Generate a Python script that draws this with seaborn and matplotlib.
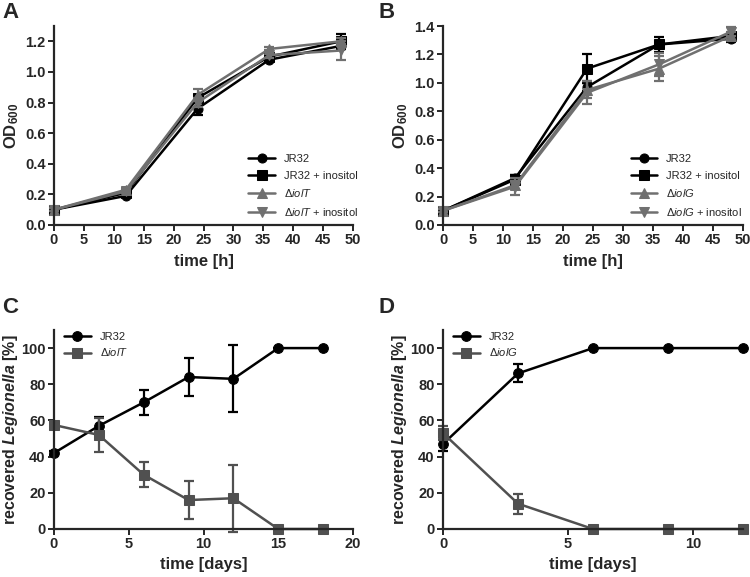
import numpy as np
import matplotlib
matplotlib.use('Agg')
import matplotlib.pyplot as plt
import seaborn as sns

# ---- data ----
hours = [0, 12, 24, 36, 48]

# panel A
a_jr32 = [0.10, 0.19, 0.76, 1.08, 1.17]
a_jr32_err = [0.01, 0.01, 0.04, 0.01, 0.02]
a_jr32_ino = [0.10, 0.21, 0.83, 1.10, 1.20]
a_jr32_ino_err = [0.01, 0.01, 0.02, 0.01, 0.05]
a_iolT = [0.10, 0.23, 0.85, 1.15, 1.20]
a_iolT_err = [0.01, 0.01, 0.04, 0.01, 0.02]
a_iolT_ino = [0.10, 0.22, 0.80, 1.11, 1.14]
a_iolT_ino_err = [0.01, 0.01, 0.03, 0.02, 0.06]

# panel B
b_jr32 = [0.10, 0.33, 0.97, 1.27, 1.31]
b_jr32_err = [0.01, 0.02, 0.03, 0.02, 0.02]
b_jr32_ino = [0.10, 0.32, 1.10, 1.27, 1.33]
b_jr32_ino_err = [0.01, 0.03, 0.10, 0.05, 0.02]
b_iolG = [0.10, 0.28, 0.95, 1.10, 1.33]
b_iolG_err = [0.01, 0.03, 0.06, 0.09, 0.03]
b_iolG_ino = [0.10, 0.27, 0.93, 1.13, 1.36]
b_iolG_ino_err = [0.01, 0.06, 0.08, 0.08, 0.03]

# panel C
c_days = [0, 3, 6, 9, 12, 15, 18]
c_jr32 = [42, 57, 70, 84, 83, 100, 100]
c_jr32_err = [1, 5, 7, 10.5, 18.5, 0, 0]
c_iolT = [57.5, 52, 30, 16, 17, 0, 0]
c_iolT_err = [1, 9.5, 7, 10.5, 18.5, 0, 0]

# panel D
d_days = [0, 3, 6, 9, 12]
d_jr32 = [47, 86, 100, 100, 100]
d_jr32_err = [4, 5, 0, 0, 0]
d_iolG = [53, 14, 0, 0, 0]
d_iolG_err = [4, 5.5, 0, 0, 0]

sns.set_style('ticks')
plt.rcParams['font.family'] = ['Liberation Sans', 'DejaVu Sans']
plt.rcParams['mathtext.fontset'] = 'custom'
plt.rcParams['mathtext.rm'] = 'Liberation Sans'
plt.rcParams['mathtext.it'] = 'Liberation Sans:italic'
plt.rcParams['mathtext.bf'] = 'Liberation Sans:bold'
plt.rcParams['mathtext.bfit'] = 'Liberation Sans:bold:italic'

GRAY_AB = '#707070'
GRAY_CD = '#505050'

fig = plt.figure(figsize=(7.5, 5.77), dpi=100)
W, H = 750, 577


def add_ax(l, r, t, b):
    return fig.add_axes([l / W, 1 - b / H, (r - l) / W, (b - t) / H])


axA = add_ax(54, 353, 26, 225)
axB = add_ax(443, 743, 26, 225)
axC = add_ax(54, 353, 330, 529)
axD = add_ax(443, 743, 330, 529)


def series(ax, x, y, err, color, marker, label, ms=6.5):
    sns.lineplot(x=x, y=y, ax=ax, color=color, marker=marker, markersize=ms,
                 markeredgecolor=color, linewidth=1.8, label=label, clip_on=False)
    ax.errorbar(x, y, yerr=err, fmt='none', ecolor=color, elinewidth=1.6,
                capsize=3.5, capthick=1.6, clip_on=False)


def style(ax):
    sns.despine(ax=ax)
    for s in ['left', 'bottom']:
        ax.spines[s].set_linewidth(1.6)
    ax.tick_params(width=1.4, length=4, labelsize=10.5, pad=2)
    for lab in ax.get_xticklabels() + ax.get_yticklabels():
        lab.set_fontweight('bold')


leg_kw = dict(frameon=False, fontsize=8, handlelength=2.4)

# panel A
series(axA, hours, a_jr32, a_jr32_err, 'black', 'o', 'JR32')
series(axA, hours, a_jr32_ino, a_jr32_ino_err, 'black', 's', 'JR32 + inositol')
series(axA, hours, a_iolT, a_iolT_err, GRAY_AB, '^', r'$\Delta\mathit{iolT}$')
series(axA, hours, a_iolT_ino, a_iolT_ino_err, GRAY_AB, 'v', r'$\Delta\mathit{iolT}$ + inositol')
axA.set_xlim(0, 50)
axA.set_ylim(0, 1.3)
axA.set_xticks(range(0, 51, 5))
axA.set_yticks(np.arange(0, 1.21, 0.2))
axA.set_yticklabels(['0.0', '0.2', '0.4', '0.6', '0.8', '1.0', '1.2'])
axA.set_xlabel('time [h]', fontsize=12, fontweight='bold', labelpad=5)
axA.set_ylabel(r'OD$_{\mathbf{600}}$', fontsize=12, fontweight='bold', labelpad=3)
axA.legend(loc='lower right', bbox_to_anchor=(1.05, -0.015), labelspacing=0.6, **leg_kw)

# panel B
series(axB, hours, b_jr32, b_jr32_err, 'black', 'o', 'JR32')
series(axB, hours, b_jr32_ino, b_jr32_ino_err, 'black', 's', 'JR32 + inositol')
series(axB, hours, b_iolG, b_iolG_err, GRAY_AB, '^', r'$\Delta\mathit{iolG}$')
series(axB, hours, b_iolG_ino, b_iolG_ino_err, GRAY_AB, 'v', r'$\Delta\mathit{iolG}$ + inositol')
axB.set_xlim(0, 50)
axB.set_ylim(0, 1.4)
axB.set_xticks(range(0, 51, 5))
axB.set_yticks(np.arange(0, 1.41, 0.2))
axB.set_yticklabels(['0.0', '0.2', '0.4', '0.6', '0.8', '1.0', '1.2', '1.4'])
axB.set_xlabel('time [h]', fontsize=12, fontweight='bold', labelpad=5)
axB.set_ylabel(r'OD$_{\mathbf{600}}$', fontsize=12, fontweight='bold', labelpad=3)
axB.legend(loc='lower right', bbox_to_anchor=(1.03, -0.015), labelspacing=0.6, **leg_kw)

# panel C
series(axC, c_days, c_jr32, c_jr32_err, 'black', 'o', 'JR32', ms=7)
series(axC, c_days, c_iolT, c_iolT_err, GRAY_CD, 's', r'$\Delta\mathit{iolT}$', ms=7)
axC.set_xlim(0, 20)
axC.set_ylim(0, 110)
axC.set_xticks([0, 5, 10, 15, 20])
axC.set_yticks(range(0, 101, 20))
axC.set_xlabel('time [days]', fontsize=12, fontweight='bold', labelpad=4)
axC.set_ylabel(r'recovered $\mathbfit{Legionella}$ [%]', fontsize=11.5, fontweight='bold', labelpad=1)
axC.legend(loc='upper left', bbox_to_anchor=(0.0, 1.04), labelspacing=0.4, **leg_kw)

# panel D
series(axD, d_days, d_jr32, d_jr32_err, 'black', 'o', 'JR32', ms=7)
series(axD, d_days, d_iolG, d_iolG_err, GRAY_CD, 's', r'$\Delta\mathit{iolG}$', ms=7)
axD.set_xlim(0, 12)
axD.set_ylim(0, 110)
axD.set_xticks([0, 5, 10])
axD.set_yticks(range(0, 101, 20))
axD.set_xlabel('time [days]', fontsize=12, fontweight='bold', labelpad=4)
axD.set_ylabel(r'recovered $\mathbfit{Legionella}$ [%]', fontsize=11.5, fontweight='bold', labelpad=1)
axD.legend(loc='upper left', bbox_to_anchor=(0.0, 1.04), labelspacing=0.4, **leg_kw)

for ax in [axA, axB, axC, axD]:
    style(ax)

for lbl, x, y in [('A', 2, 2), ('B', 378, 2), ('C', 2, 297), ('D', 378, 297)]:
    fig.text(x / W, 1 - y / H, lbl, fontsize=16, fontweight='bold', va='top', ha='left')

fig.savefig('out.png', dpi=100)
